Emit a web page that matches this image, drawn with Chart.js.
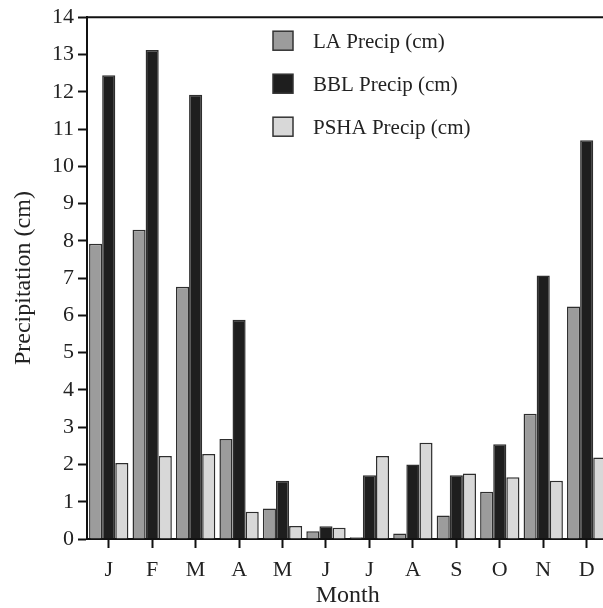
<!DOCTYPE html>
<html>
<head>
<meta charset="utf-8">
<script src="https://cdn.jsdelivr.net/npm/chart.js@4"></script>
<style>
    html, body { margin: 0; padding: 0; background: #fff; overflow: hidden; }
    #wrap { width: 612px; height: 608px; }
</style>
</head>
<body>
<div id="wrap"><canvas id="precipChart"></canvas></div>
<script>
const months = ['J', 'F', 'M', 'A', 'M', 'J', 'J', 'A', 'S', 'O', 'N', 'D'];
const laPrecip = [7.92, 8.3, 6.77, 2.68, 0.82, 0.21, 0.05, 0.15, 0.63, 1.27, 3.36, 6.24];
const bblPrecip = [12.44, 13.12, 11.92, 5.88, 1.56, 0.34, 1.71, 2.0, 1.71, 2.54, 7.07, 10.7];
const psHaPrecip = [2.04, 2.23, 2.28, 0.73, 0.35, 0.3, 2.23, 2.58, 1.76, 1.66, 1.56, 2.19];
const yTicks = [0, 1, 2, 3, 4, 5, 6, 7, 8, 9, 10, 11, 12, 13, 14];

const serif = '"Liberation Serif", "Times New Roman", serif';

// top frame line + legend drawn inside the plot area
const framePlugin = {
    id: 'framePlugin',
    afterDraw(chart) {
        const ctx = chart.ctx;
        const area = chart.chartArea;
        ctx.save();
        ctx.strokeStyle = '#111';
        ctx.lineWidth = 2;
        ctx.beginPath();
        ctx.moveTo(area.left - 1, area.top);
        ctx.lineTo(chart.width, area.top);
        ctx.stroke();

        ctx.font = '21px ' + serif;
        ctx.textBaseline = 'middle';
        chart.data.datasets.forEach(function (ds, i) {
            const bx = area.left + 186;
            const by = area.top + 14 + i * 43;
            ctx.fillStyle = ds.backgroundColor;
            ctx.fillRect(bx, by, 20, 19);
            ctx.strokeStyle = '#333';
            ctx.lineWidth = 1.5;
            ctx.strokeRect(bx, by, 20, 19);
            ctx.fillStyle = '#222';
            ctx.fillText(ds.label, bx + 40, by + 11);
        });
        ctx.restore();
    }
};

const ctx = document.getElementById('precipChart').getContext('2d');
new Chart(ctx, {
    type: 'bar',
    data: {
        labels: months,
        datasets: [
            { label: 'LA Precip (cm)', data: laPrecip, backgroundColor: '#9c9c9c' },
            { label: 'BBL Precip (cm)', data: bblPrecip, backgroundColor: '#1e1e1e' },
            { label: 'PSHA Precip (cm)', data: psHaPrecip, backgroundColor: '#d8d8d8' }
        ].map(function (d) {
            d.borderColor = '#2e2e2e';
            d.borderWidth = 1.5;
            d.categoryPercentage = 0.905;
            d.barPercentage = 1.0;
            return d;
        })
    },
    options: {
        responsive: true,
        maintainAspectRatio: false,
        animation: false,
        layout: { padding: { top: 17, right: 3.6, left: 0, bottom: 0 } },
        plugins: {
            legend: { display: false },
            tooltip: { enabled: false }
        },
        scales: {
            x: {
                grid: {
                    display: true,
                    drawOnChartArea: false,
                    offset: false,
                    tickLength: 9,
                    tickWidth: 2,
                    tickColor: '#111'
                },
                border: { color: '#111', width: 2 },
                ticks: {
                    color: '#222',
                    padding: 9,
                    font: { family: serif, size: 22 }
                },
                title: {
                    display: true,
                    text: 'Month',
                    color: '#222',
                    font: { family: serif, size: 24, lineHeight: 1 },
                    padding: { top: 0, bottom: 0 }
                },
                afterFit: function (scale) { scale.height = 69; }
            },
            y: {
                min: 0,
                max: 14,
                afterBuildTicks: function (scale) {
                    scale.ticks = yTicks.map(function (v) { return { value: v }; });
                },
                grid: {
                    display: true,
                    drawOnChartArea: false,
                    tickLength: 9,
                    tickWidth: 2,
                    tickColor: '#111'
                },
                border: { color: '#111', width: 2 },
                ticks: {
                    color: '#222',
                    padding: 4,
                    font: { family: serif, size: 22 }
                },
                title: {
                    display: true,
                    text: 'Precipitation (cm)',
                    color: '#222',
                    font: { family: serif, size: 24, lineHeight: 1 },
                    padding: { top: 12, bottom: 0 }
                },
                afterFit: function (scale) { scale.width = 87; }
            }
        }
    },
    plugins: [framePlugin]
});
</script>
</body>
</html>
